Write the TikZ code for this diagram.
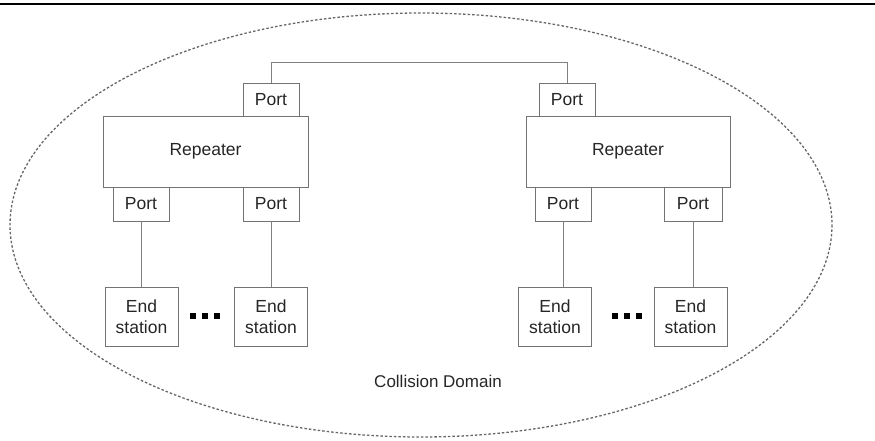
\documentclass[tikz,border=0pt]{standalone}
\usepackage{fontspec}
\setmainfont{Liberation Sans}
\begin{document}
\begin{tikzpicture}[x=1pt,y=-1pt,
  box/.style={draw=black!55,line width=0.9pt,fill=white,inner sep=0pt,font=\fontsize{17.5}{19}\selectfont,text=black!85},
  wire/.style={draw=black!50,line width=1pt},
  dotsq/.style={fill=black,minimum size=6pt,inner sep=0pt}]
\useasboundingbox (0,0) rectangle (875,440);
\draw[black,line width=1.6pt] (0,4) -- (875,4);
\draw[black!60,line width=1.3pt,dash pattern=on 2.5pt off 2pt] (421,225) ellipse [x radius=411, y radius=212];
% left repeater
\node[box,minimum width=205pt,minimum height=71pt] (rl) at (205.5,151.5) {Repeater};
\node[box,minimum width=56pt,minimum height=33pt] (plt) at (271,99.5) {Port};
\node[box,minimum width=56pt,minimum height=34pt] (pl1) at (141,204) {Port};
\node[box,minimum width=56pt,minimum height=34pt] (pl2) at (271,204) {Port};
% right repeater
\node[box,minimum width=204pt,minimum height=71pt] (rr) at (628,151.5) {Repeater};
\node[box,minimum width=56pt,minimum height=33pt] (prt) at (567,99.5) {Port};
\node[box,minimum width=56pt,minimum height=34pt] (pr1) at (563,204) {Port};
\node[box,minimum width=58pt,minimum height=34pt] (pr2) at (693,204) {Port};
% end stations
\tikzset{es/.style={box,minimum width=73pt,minimum height=59pt,align=center,font=\fontsize{17.5}{21}\selectfont}}
\node[es] (el1) at (141.5,316.5) {End\\station};
\node[es] (el2) at (271,316.5) {End\\station};
\node[es] (er1) at (555,316.5) {End\\station};
\node[es] (er2) at (690.5,316.5) {End\\station};
% dots
\foreach \n/\x in {a/193,b/205,c/217} \node[dotsq] (dl\n) at (\x,316) {};
\foreach \n/\x in {a/615,b/627,c/639} \node[dotsq] (dr\n) at (\x,316) {};
% wires
\coordinate (tl) at (271,62);
\coordinate (tr) at (567,62);
\draw[wire] (plt.north) -- (tl) -- (tr) -- (prt.north);
\draw[wire] (pl1.south) -- (el1.north -| pl1.south);
\draw[wire] (pl2.south) -- (el2.north -| pl2.south);
\draw[wire] (pr1.south) -- (er1.north -| pr1.south);
\draw[wire] (pr2.south) -- (er2.north -| pr2.south);
\node[font=\fontsize{17}{19}\selectfont,text=black!85] (cd) at (438,381) {Collision Domain};
\end{tikzpicture}
\end{document}
